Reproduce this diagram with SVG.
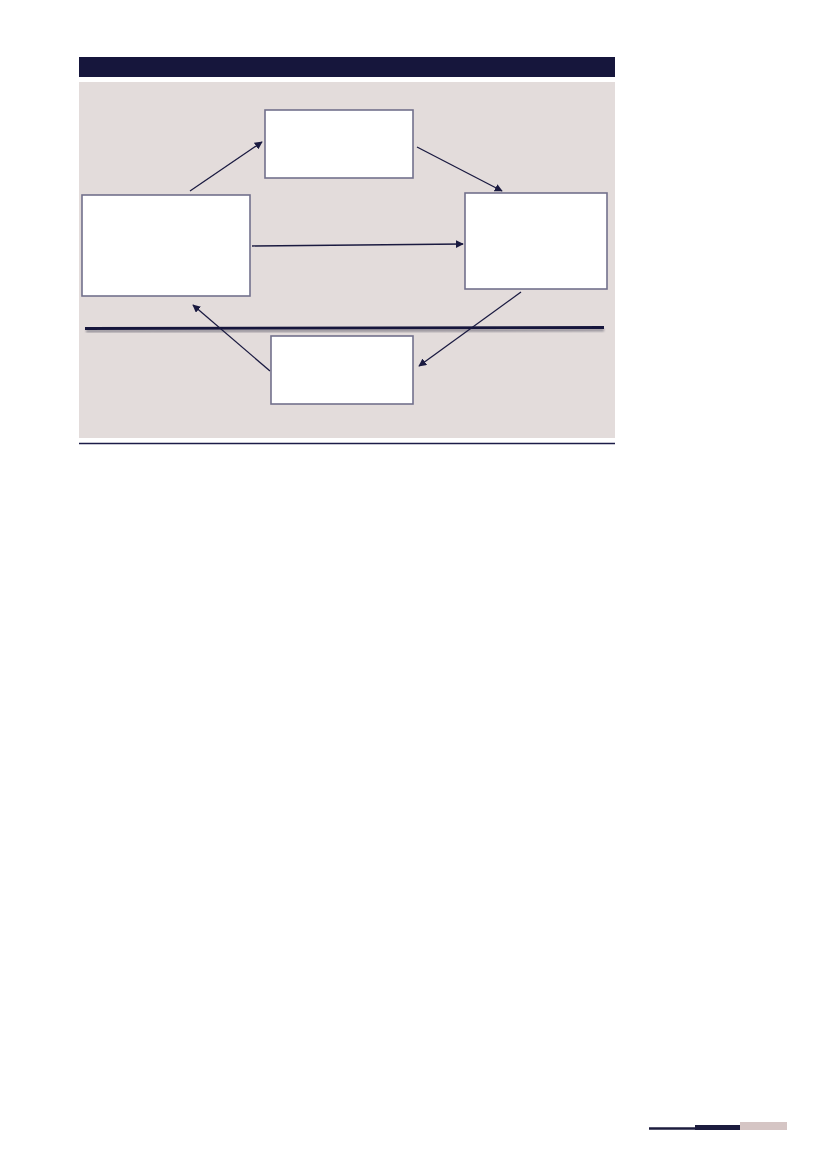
<svg xmlns="http://www.w3.org/2000/svg" width="827" height="1169" viewBox="0 0 827 1169">
<style>
.node{fill:#ffffff;stroke:#72718c;stroke-width:1.6}
.conn{stroke:#1a1a40;stroke-width:1.3;fill:none}
</style>
<defs>
<marker id="ah" viewBox="0 0 10 10" refX="9" refY="5" markerWidth="8" markerHeight="8" markerUnits="userSpaceOnUse" orient="auto">
<path d="M0,0 L10,5 L0,10 z" fill="#1a1a40"/>
</marker>
<filter id="sh" x="-5%" y="-200%" width="110%" height="500%">
<feGaussianBlur stdDeviation="1"/>
</filter>
</defs>
<rect x="0" y="0" width="827" height="1169" fill="#ffffff"/>
<rect x="79" y="57" width="536" height="20" fill="#16163c"/>
<rect x="79" y="82" width="536" height="356" fill="#e3dcdb"/>
<line x1="79" y1="443.5" x2="615" y2="443.5" stroke="#1c1c48" stroke-width="1.5"/>
<line x1="86" y1="331" x2="604" y2="330" stroke="#8a8690" stroke-width="2.5" filter="url(#sh)"/>
<line x1="85" y1="328.5" x2="604" y2="327.5" stroke="#16163c" stroke-width="2.8"/>
<g id="connectors">
<line class="conn" x1="190" y1="191" x2="262" y2="142" marker-end="url(#ah)"/>
<line class="conn" x1="417" y1="147" x2="502" y2="191" marker-end="url(#ah)"/>
<line class="conn" x1="252" y1="246" x2="463" y2="244" marker-end="url(#ah)"/>
<line class="conn" x1="521" y1="292" x2="419" y2="366" marker-end="url(#ah)"/>
<line class="conn" x1="270" y1="371" x2="193" y2="305" marker-end="url(#ah)"/>
</g>
<g id="node-top"><rect class="node" x="265" y="110" width="148" height="68"/></g>
<g id="node-left"><rect class="node" x="82" y="195" width="168" height="101"/></g>
<g id="node-right"><rect class="node" x="465" y="193" width="142" height="96"/></g>
<g id="node-bottom"><rect class="node" x="271" y="336" width="142" height="68"/></g>
<line x1="649" y1="1128.5" x2="695" y2="1128.5" stroke="#1c1c3e" stroke-width="2.5"/>
<rect x="695" y="1125" width="45" height="5" fill="#1c1c3e"/>
<rect x="740" y="1122" width="47" height="8" fill="#d5c5c4"/>
</svg>
